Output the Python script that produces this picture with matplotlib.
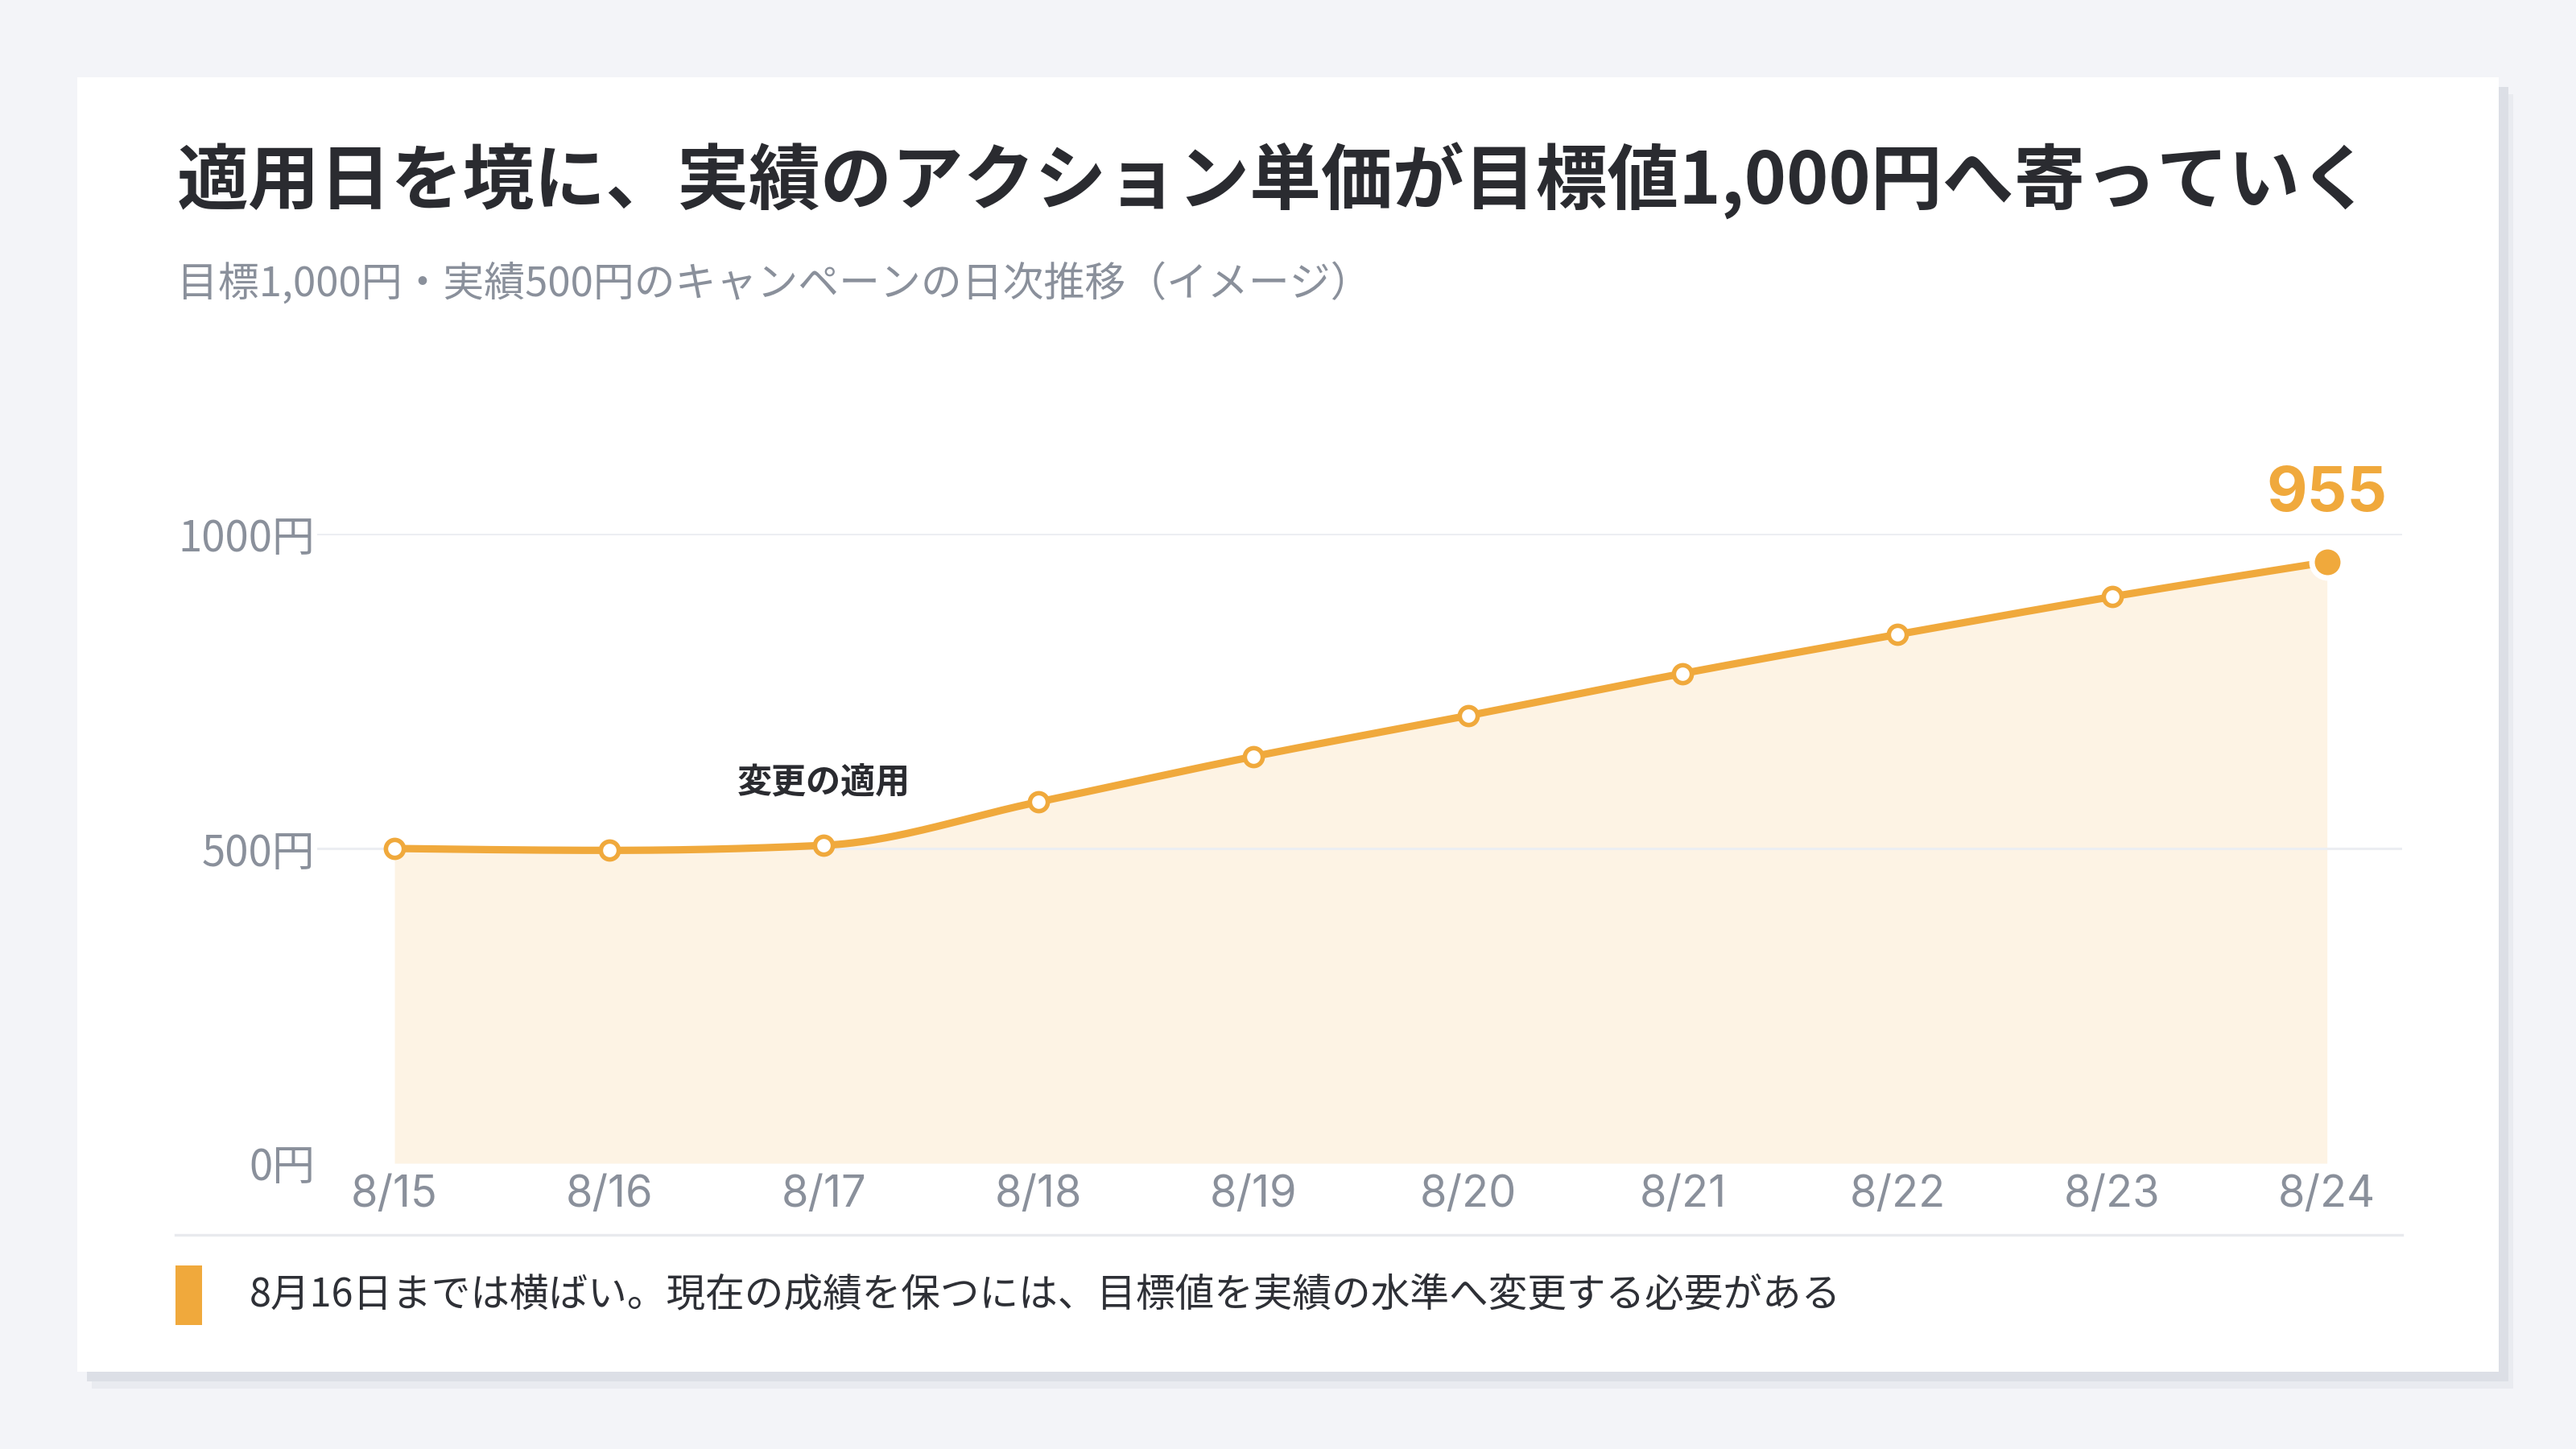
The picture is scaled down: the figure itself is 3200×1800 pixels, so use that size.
import matplotlib
matplotlib.use('Agg')

import matplotlib.pyplot as plt
import matplotlib.patches as mpatches
import numpy as np

# colours
bg = '#f3f4f8'
orange = '#f0a93c'
fill_c = '#fdf3e4'
dark = '#2a2b30'
gray = '#8a909b'
grid_c = '#eceef2'

# data
dates = ['8/15', '8/16', '8/17', '8/18', '8/19', '8/20', '8/21', '8/22', '8/23', '8/24']
values = [500, 497, 505, 574, 646, 711, 778, 840, 900, 955]
yticks = [0, 500, 1000]
ytick_labels = ['0円', '500円', '1000円']

title = '適用日を境に、実績のアクション単価が目標値1,000円へ寄っていく'
subtitle = '目標1,000円・実績500円のキャンペーンの日次推移（イメージ）'
note = '8月16日までは横ばい。現在の成績を保つには、目標値を実績の水準へ変更する必要がある'
marker_label = '変更の適用'
marker_idx = 2

jp = ['Noto Sans CJK JP', 'DejaVu Sans']
lat = ['Inter', 'Noto Sans CJK JP', 'DejaVu Sans']
plt.rcParams['font.family'] = jp

W, H = 3200, 1800
fig = plt.figure(figsize=[16, 9], dpi=200, facecolor=bg)


def px_rect(x0, y0, x1, y1, **kw):
    # rectangle given in pixel coords (origin top-left)
    r = mpatches.Rectangle((x0 / W, 1 - y1 / H), (x1 - x0) / W, (y1 - y0) / H,
                           transform=fig.transFigure, **kw)
    fig.add_artist(r)
    return r


def fx(x):
    return x / W


def fy(y):
    return 1 - y / H


# card + shadow
px_rect(114, 117, 3122, 1725, facecolor='#e9ebf0', edgecolor='none', zorder=0)
px_rect(108, 108, 3116, 1716, facecolor='#dcdfe6', edgecolor='none', zorder=0)
px_rect(96, 96, 3104, 1704, facecolor='white', edgecolor='none', zorder=0)

fig.text(fx(220), fy(225), title, fontsize=32, fontweight='bold', color=dark,
         ha='left', va='center')
fig.text(fx(220), fy(353), subtitle, fontsize=18.3, color=gray, ha='left', va='center')

# chart
ax = fig.add_axes([fx(394), fy(1445), (2984 - 394) / W, (1445 - 663) / H])
ax.set_facecolor('none')
for s in ax.spines.values():
    s.set_visible(False)

x = np.arange(len(values))
y = np.array(values, dtype=float)


# monotone cubic curve through the points (d3 curveMonotoneX style)
def monotone_slopes(x, y):
    n = len(x)
    h = np.diff(x)
    s = np.diff(y) / h
    t = np.zeros(n)
    for i in range(1, n - 1):
        h0, h1 = h[i - 1], h[i]
        s0, s1 = s[i - 1], s[i]
        p = (s0 * h1 + s1 * h0) / (h0 + h1)
        t[i] = (np.sign(s0) + np.sign(s1)) * min(abs(s0), abs(s1), 0.5 * abs(p))
    t[0] = (3 * s[0] - t[1]) / 2
    t[-1] = (3 * s[-1] - t[-2]) / 2
    return t


t = monotone_slopes(x, y)
cx, cy = [], []
for i in range(len(x) - 1):
    h = x[i + 1] - x[i]
    u = np.linspace(0, 1, 60)
    h00 = 2 * u**3 - 3 * u**2 + 1
    h10 = u**3 - 2 * u**2 + u
    h01 = -2 * u**3 + 3 * u**2
    h11 = u**3 - u**2
    cx.append(x[i] + u * h)
    cy.append(h00 * y[i] + h10 * h * t[i] + h01 * y[i + 1] + h11 * h * t[i + 1])
cx = np.concatenate(cx)
cy = np.concatenate(cy)

ax.fill_between(cx, 0, cy, color=fill_c, linewidth=0, zorder=1)
for v in yticks[1:]:
    ax.axhline(v, color=grid_c, linewidth=1.1, zorder=2)
ax.plot(cx, cy, color=orange, linewidth=3.3, solid_capstyle='round', zorder=3)
ax.plot(x[:-1], y[:-1], 'o', markersize=8, markerfacecolor='white',
        markeredgecolor=orange, markeredgewidth=2.0, zorder=4)
ax.plot(x[-1], y[-1], 'o', markersize=14, markerfacecolor=orange,
        markeredgecolor='white', markeredgewidth=2.5, zorder=5, clip_on=False)

ax.annotate(str(values[-1]), (x[-1], y[-1]), xytext=(0, 30), textcoords='offset points',
            ha='center', va='center', fontsize=28, fontweight='bold', color=orange,
            family=lat, annotation_clip=False)
ax.annotate(marker_label, (x[marker_idx], y[marker_idx]), xytext=(0, 28),
            textcoords='offset points', ha='center', va='center', fontsize=15.5,
            fontweight='bold', color=dark, annotation_clip=False)

ax.set_xlim(-0.36, len(values) - 1 + 0.35)
ax.set_ylim(0, 1000)
ax.set_xticks(x)
ax.set_xticklabels(dates, fontsize=19.5, color=gray, family=lat)
ax.set_yticks(yticks)
ax.set_yticklabels(ytick_labels, fontsize=19, color=gray)
ax.tick_params(axis='both', length=0)
ax.tick_params(axis='x', pad=5)
ax.tick_params(axis='y', pad=1)

# footer
fig.add_artist(plt.Line2D([fx(218), fx(2984)], [fy(1534), fy(1534)],
                          transform=fig.transFigure, color='#e8eaee', linewidth=1.2))
px_rect(218, 1572, 251, 1646, facecolor=orange, edgecolor='none')
fig.text(fx(310), fy(1610), note, fontsize=17.5, color='#2e3036', ha='left', va='center')

fig.savefig('out.png', dpi=200, facecolor=bg)
